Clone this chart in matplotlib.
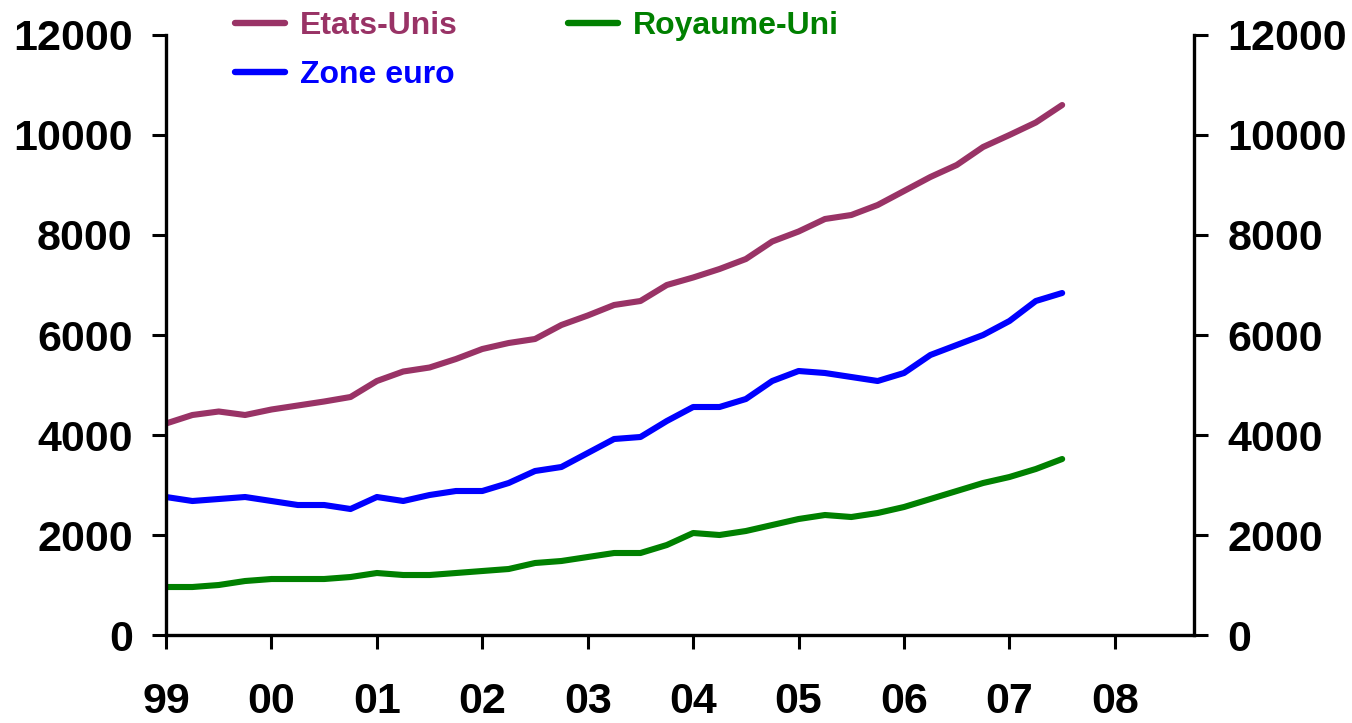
import numpy as np
import matplotlib
matplotlib.use("Agg")
import matplotlib.pyplot as plt
from matplotlib.ticker import FixedLocator

# quarterly data, 1999 Q1 -> 2007 Q3
start_year = 1999
n_quarters = 35

etats_unis = [4230, 4400, 4470, 4400, 4510, 4590, 4670, 4760,
              5080, 5270, 5350, 5520, 5720, 5840, 5920, 6200,
              6390, 6600, 6680, 7000, 7150, 7320, 7520, 7870,
              8070, 8320, 8400, 8600, 8880, 9160, 9400, 9760,
              10000, 10250, 10600]
zone_euro = [2760, 2680, 2720, 2760, 2680, 2600, 2600, 2520,
             2760, 2680, 2800, 2880, 2880, 3040, 3280, 3360,
             3640, 3920, 3960, 4280, 4560, 4560, 4720, 5080,
             5280, 5240, 5160, 5080, 5240, 5600, 5800, 6000,
             6280, 6680, 6840]
royaume_uni = [960, 960, 1000, 1080, 1120, 1120, 1120, 1160,
               1240, 1200, 1200, 1240, 1280, 1320, 1440, 1480,
               1560, 1640, 1640, 1800, 2040, 2000, 2080, 2200,
               2320, 2400, 2360, 2440, 2560, 2720, 2880, 3040,
               3160, 3320, 3520]

year_ticks = list(range(1999, 2009))
year_labels = ["99", "00", "01", "02", "03", "04", "05", "06", "07", "08"]
y_ticks = [0, 2000, 4000, 6000, 8000, 10000, 12000]

plt.rcParams['font.family'] = ['Liberation Sans', 'DejaVu Sans']
plt.rcParams['font.weight'] = 'bold'

x = start_year + np.arange(n_quarters) / 4.0

fig = plt.figure(figsize=(13.52, 7.23), dpi=100)
ax = fig.add_axes([0.1228, 0.1217, 0.7603, 0.8299])

ax.plot(x, etats_unis, color='#993366', lw=4.4, label='Etats-Unis', solid_capstyle='round')
ax.plot(x, zone_euro, color='#0000FF', lw=4.4, label='Zone euro', solid_capstyle='round')
ax.plot(x, royaume_uni, color='#008000', lw=4.4, label='Royaume-Uni', solid_capstyle='round')

ax.set_xlim(1999, 2008.75)
ax.set_ylim(0, 12000)

ax.xaxis.set_major_locator(FixedLocator(year_ticks))
ax.set_xticklabels(year_labels)
ax.set_yticks(y_ticks)
ax.set_yticklabels([str(v) for v in y_ticks])

for s in ['left', 'right', 'bottom']:
    ax.spines[s].set_linewidth(2.4)
ax.spines['top'].set_visible(False)

ax.tick_params(axis='y', which='both', left=True, right=True, labelleft=True, labelright=True,
               direction='out', length=10, width=2.2, labelsize=31, pad=14)
ax.tick_params(axis='x', direction='out', length=10, width=2.2, labelsize=31, pad=24)
for lab in ax.get_xticklabels() + ax.get_yticklabels():
    lab.set_fontweight('bold')

leg = ax.legend(loc='upper left', bbox_to_anchor=(0.0395, 1.088), ncol=2, frameon=False,
                fontsize=23, handlelength=1.56, handletextpad=0.47, columnspacing=3.45,
                labelspacing=0.6)
for txt, line in zip(leg.get_texts(), leg.get_lines()):
    txt.set_color(line.get_color())
    txt.set_fontweight('bold')
    line.set_linewidth(4.6)

fig.savefig("out.png", dpi=100)
